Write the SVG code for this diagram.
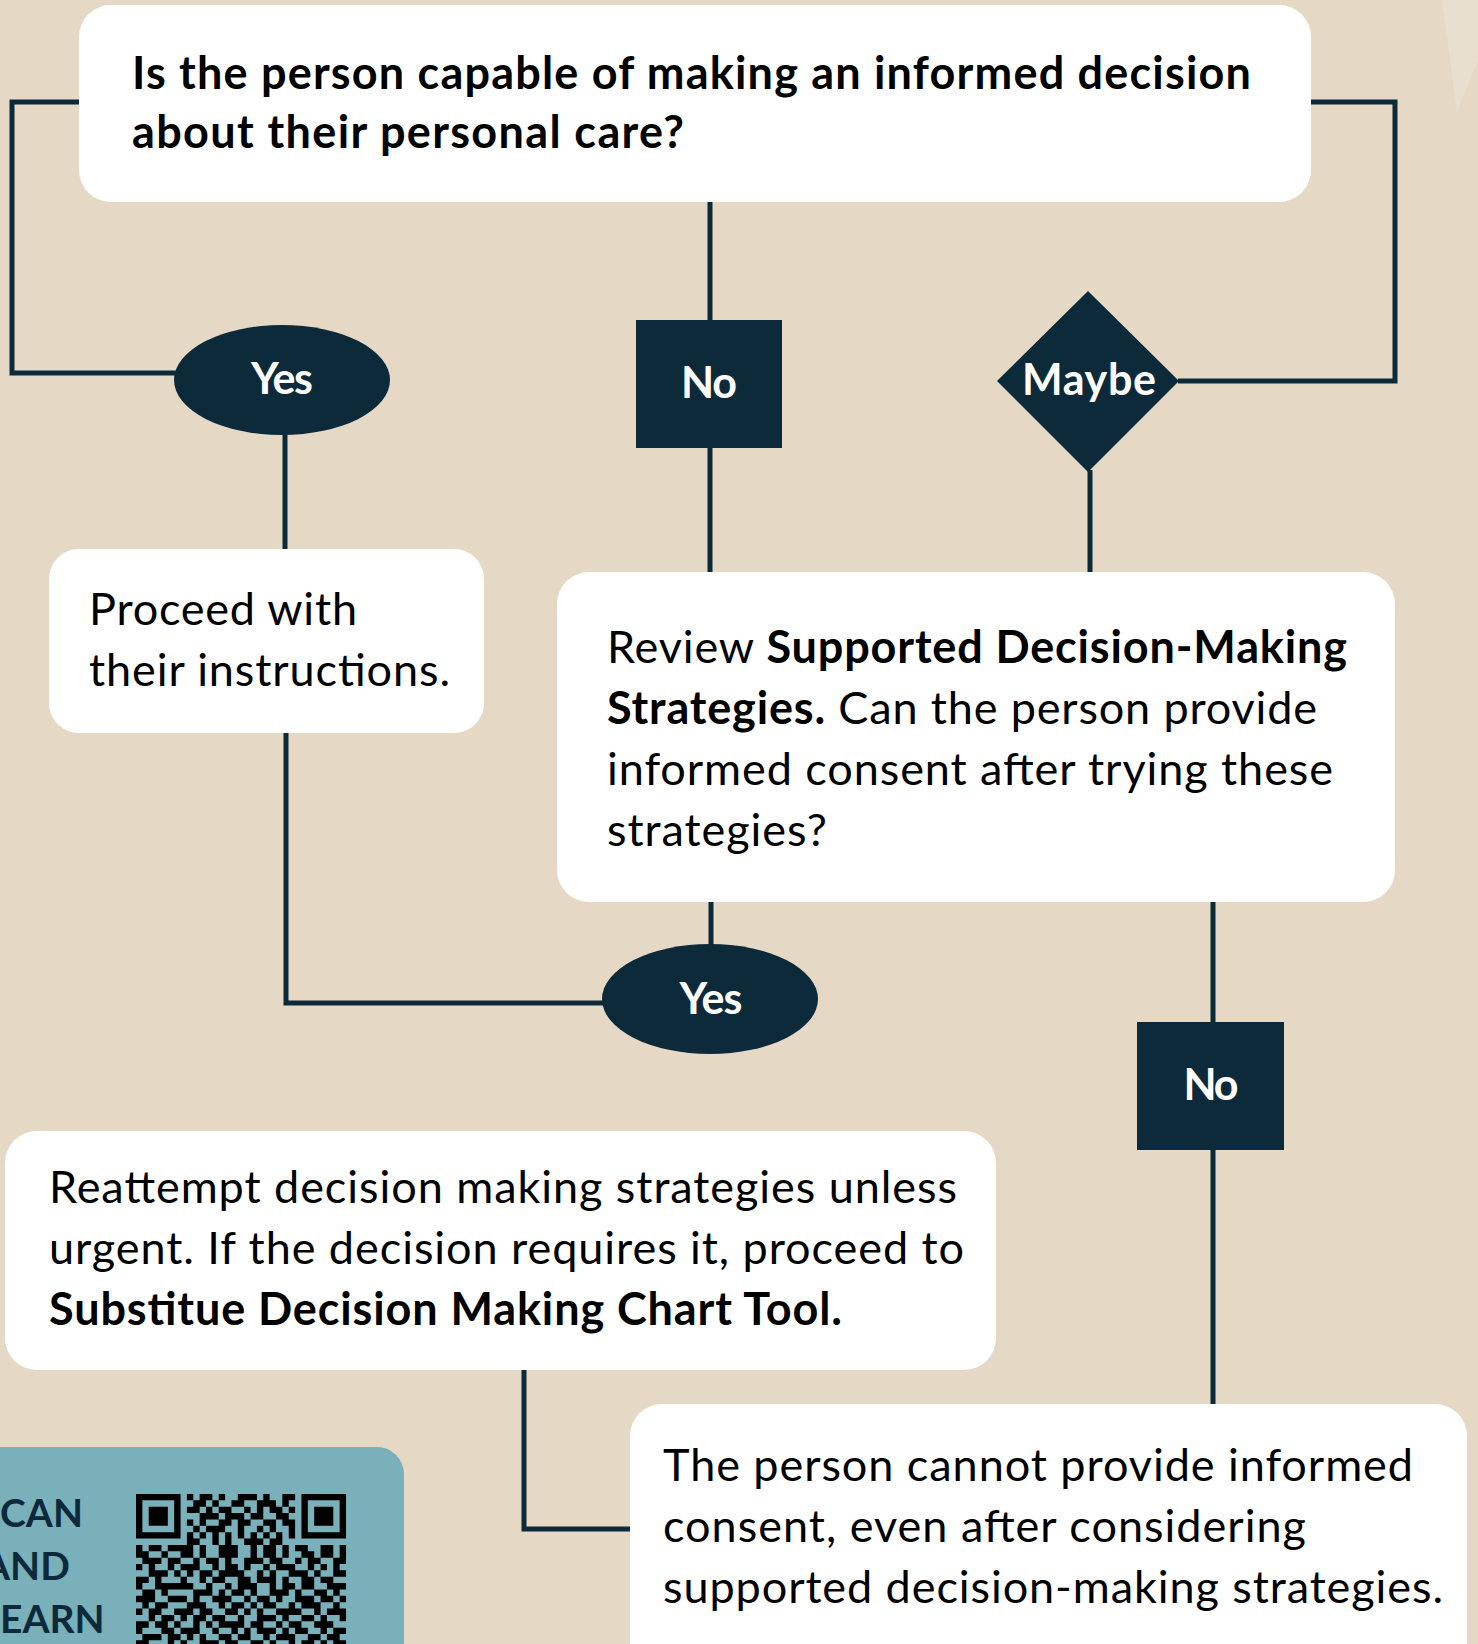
<svg xmlns="http://www.w3.org/2000/svg" width="1478" height="1644" viewBox="0 0 1478 1644">
<style>
.bg{fill:#e5d9c6}
.box{fill:#ffffff}
.dark{fill:#0d2a3a}
.con{fill:none;stroke:#0d2a3a;stroke-width:5}
.t{font-family:Lato,"Liberation Sans",sans-serif;font-size:45px;fill:#000}
.b{font-weight:bold}
.lbl{font-family:Lato,"Liberation Sans",sans-serif;font-size:43px;font-weight:bold;fill:#ffffff;text-anchor:middle}
.qrt{font-family:Lato,"Liberation Sans",sans-serif;font-size:39px;font-weight:bold;fill:#0d2a3a}
</style>
<rect class="bg" x="0" y="0" width="1478" height="1644"/>
<polygon points="1442,0 1478,0 1478,60 1457,112" fill="#e9dfcf"/>

<g id="connectors">
<polyline class="con" points="79,102 12,102 12,373 176,373"/>
<polyline class="con" points="1311,102 1395,102 1395,381 1178,381"/>
<line class="con" x1="710" y1="202" x2="710" y2="321"/>
<line class="con" x1="710" y1="447" x2="710" y2="573"/>
<line class="con" x1="1090" y1="470" x2="1090" y2="573"/>
<line class="con" x1="285" y1="433" x2="285" y2="550"/>
<polyline class="con" points="286,732 286,1003 604,1003"/>
<line class="con" x1="711" y1="901" x2="711" y2="945"/>
<line class="con" x1="1213" y1="901" x2="1213" y2="1023"/>
<line class="con" x1="1213" y1="1149" x2="1213" y2="1405"/>
<polyline class="con" points="524,1369 524,1529 631,1529"/>
</g>

<g id="question">
<rect class="box" x="79" y="5" width="1232" height="197" rx="32"/>
<text class="t b" x="132" y="89" textLength="1119">Is the person capable of making an informed decision</text>
<text class="t b" x="132" y="148" textLength="552">about their personal care?</text>
</g>

<g id="yes1">
<ellipse class="dark" cx="282" cy="380" rx="108" ry="55"/>
<text class="lbl" x="282" y="394" textLength="62">Yes</text>
</g>

<g id="no1">
<rect class="dark" x="636" y="320" width="146" height="128"/>
<text class="lbl" x="709" y="398" textLength="56">No</text>
</g>

<g id="maybe">
<polygon class="dark" points="1088,291 1179,381 1088,472 997,381"/>
<text class="lbl" x="1089" y="395" textLength="134">Maybe</text>
</g>

<g id="proceed">
<rect class="box" x="49" y="549" width="435" height="184" rx="30"/>
<text class="t" x="89" y="625" textLength="268">Proceed with</text>
<text class="t" x="89" y="686" textLength="361">their instructions.</text>
</g>

<g id="review">
<rect class="box" x="557" y="572" width="838" height="330" rx="32"/>
<text class="t" x="607" y="663" textLength="740">Review <tspan class="b">Supported Decision-Making</tspan></text>
<text class="t" x="607" y="724" textLength="710"><tspan class="b">Strategies.</tspan> Can the person provide</text>
<text class="t" x="607" y="785" textLength="726">informed consent after trying these</text>
<text class="t" x="607" y="846" textLength="220">strategies?</text>
</g>

<g id="yes2">
<ellipse class="dark" cx="710" cy="999" rx="108" ry="55"/>
<text class="lbl" x="711" y="1014" textLength="63">Yes</text>
</g>

<g id="no2">
<rect class="dark" x="1137" y="1022" width="147" height="128"/>
<text class="lbl" x="1211" y="1100" textLength="55">No</text>
</g>

<g id="reattempt">
<rect class="box" x="5" y="1131" width="991" height="239" rx="32"/>
<text class="t" x="49" y="1203" textLength="908">Reattempt decision making strategies unless</text>
<text class="t" x="49" y="1264" textLength="915">urgent. If the decision requires it, proceed to</text>
<text class="t b" x="49" y="1325" textLength="793">Substitue Decision Making Chart Tool.</text>
</g>

<g id="final">
<rect class="box" x="630" y="1404" width="837" height="290" rx="32"/>
<text class="t" x="663" y="1481" textLength="750">The person cannot provide informed</text>
<text class="t" x="663" y="1542" textLength="643">consent, even after considering</text>
<text class="t" x="663" y="1603" textLength="780">supported decision-making strategies.</text>
</g>

<g id="qr-panel">
<rect x="-40" y="1447" width="444" height="260" rx="27" fill="#79b0ba"/>
<text class="qrt" x="0" y="1527">CAN</text>
<text class="qrt" x="-17" y="1580">AND</text>
<text class="qrt" x="0" y="1633">EARN</text>
<path fill="#000" transform="translate(136 1494) scale(6.364)" d="
M0 0h7v1h-7z M8 0h1v1h-1z M10 0h2v1h-2z M13 0h1v1h-1z M16 0h3v1h-3z M20 0h1v1h-1z M23 0h2v1h-2z M26 0h7v1h-7z
M0 1h1v1h-1z M6 1h1v1h-1z M9 1h2v1h-2z M12 1h1v1h-1z M15 1h2v1h-2z M19 1h3v1h-3z M23 1h1v1h-1z M26 1h1v1h-1z M32 1h1v1h-1z
M0 2h1v1h-1z M2 2h3v1h-3z M6 2h1v1h-1z M8 2h2v1h-2z M11 2h1v1h-1z M13 2h2v1h-2z M17 2h1v1h-1z M19 2h1v1h-1z M21 2h2v1h-2z M24 2h1v1h-1z M26 2h1v1h-1z M28 2h3v1h-3z M32 2h1v1h-1z
M0 3h1v1h-1z M2 3h3v1h-3z M6 3h1v1h-1z M10 3h3v1h-3z M14 3h3v1h-3z M18 3h2v1h-2z M22 3h2v1h-2z M26 3h1v1h-1z M28 3h3v1h-3z M32 3h1v1h-1z
M0 4h1v1h-1z M2 4h3v1h-3z M6 4h1v1h-1z M8 4h1v1h-1z M10 4h1v1h-1z M13 4h2v1h-2z M16 4h2v1h-2z M20 4h2v1h-2z M23 4h2v1h-2z M26 4h1v1h-1z M28 4h3v1h-3z M32 4h1v1h-1z
M0 5h1v1h-1z M6 5h1v1h-1z M9 5h1v1h-1z M11 5h3v1h-3z M16 5h1v1h-1z M19 5h1v1h-1z M21 5h1v1h-1z M24 5h1v1h-1z M26 5h1v1h-1z M32 5h1v1h-1z
M0 6h7v1h-7z M8 6h1v1h-1z M10 6h1v1h-1z M12 6h1v1h-1z M14 6h1v1h-1z M16 6h1v1h-1z M18 6h1v1h-1z M20 6h1v1h-1z M22 6h1v1h-1z M24 6h1v1h-1z M26 6h7v1h-7z
M8 7h2v1h-2z M12 7h1v1h-1z M14 7h1v1h-1z M17 7h3v1h-3z M21 7h2v1h-2z
M0 8h1v1h-1z M2 8h2v1h-2z M5 8h4v1h-4z M10 8h1v1h-1z M13 8h3v1h-3z M18 8h1v1h-1z M20 8h2v1h-2z M23 8h1v1h-1z M25 8h2v1h-2z M29 8h2v1h-2z M32 8h1v1h-1z
M0 9h2v1h-2z M4 9h1v1h-1z M7 9h2v1h-2z M10 9h1v1h-1z M13 9h3v1h-3z M18 9h1v1h-1z M20 9h2v1h-2z M23 9h1v1h-1z M26 9h2v1h-2z M29 9h2v1h-2z M32 9h1v1h-1z
M1 10h3v1h-3z M5 10h2v1h-2z M9 10h1v1h-1z M11 10h2v1h-2z M14 10h1v1h-1z M17 10h3v1h-3z M21 10h2v1h-2z M25 10h1v1h-1z M27 10h2v1h-2z M31 10h2v1h-2z
M0 11h1v1h-1z M2 11h1v1h-1z M5 11h1v1h-1z M7 11h3v1h-3z M12 11h1v1h-1z M14 11h2v1h-2z M17 11h1v1h-1z M20 11h1v1h-1z M22 11h3v1h-3z M27 11h1v1h-1z M29 11h1v1h-1z M31 11h1v1h-1z
M2 12h3v1h-3z M6 12h1v1h-1z M8 12h1v1h-1z M10 12h2v1h-2z M13 12h4v1h-4z M19 12h1v1h-1z M21 12h1v1h-1z M24 12h3v1h-3z M28 12h1v1h-1z M31 12h2v1h-2z
M0 13h2v1h-2z M3 13h1v1h-1z M7 13h1v1h-1z M10 13h1v1h-1z M12 13h2v1h-2z M16 13h2v1h-2z M19 13h3v1h-3z M23 13h1v1h-1z M26 13h2v1h-2z M29 13h2v1h-2z
M0 14h1v1h-1z M3 14h6v1h-6z M11 14h1v1h-1z M14 14h1v1h-1z M16 14h3v1h-3z M21 14h1v1h-1z M23 14h2v1h-2z M26 14h2v1h-2z M30 14h3v1h-3z
M1 15h2v1h-2z M4 15h1v1h-1z M9 15h3v1h-3z M13 15h1v1h-1z M15 15h2v1h-2z M18 15h1v1h-1z M21 15h3v1h-3z M25 15h1v1h-1z M28 15h2v1h-2z M31 15h1v1h-1z
M0 16h3v1h-3z M5 16h3v1h-3z M9 16h1v1h-1z M12 16h3v1h-3z M17 16h1v1h-1z M19 16h2v1h-2z M22 16h1v1h-1z M25 16h3v1h-3z M29 16h2v1h-2z M32 16h1v1h-1z
M1 17h1v1h-1z M3 17h2v1h-2z M8 17h3v1h-3z M13 17h1v1h-1z M15 17h2v1h-2z M18 17h1v1h-1z M20 17h2v1h-2z M24 17h1v1h-1z M26 17h3v1h-3z M31 17h1v1h-1z
M0 18h1v1h-1z M2 18h2v1h-2z M6 18h3v1h-3z M10 18h2v1h-2z M14 18h2v1h-2z M17 18h1v1h-1z M19 18h1v1h-1z M22 18h4v1h-4z M28 18h1v1h-1z M30 18h3v1h-3z
M2 19h1v1h-1z M4 19h2v1h-2z M7 19h1v1h-1z M9 19h2v1h-2z M12 19h2v1h-2z M16 19h1v1h-1z M19 19h3v1h-3z M23 19h1v1h-1z M26 19h2v1h-2z M29 19h1v1h-1z M32 19h1v1h-1z
M0 20h2v1h-2z M3 20h2v1h-2z M6 20h1v1h-1z M9 20h1v1h-1z M11 20h1v1h-1z M13 20h4v1h-4z M18 20h2v1h-2z M22 20h1v1h-1z M24 20h2v1h-2z M28 20h3v1h-3z
M0 21h1v1h-1z M4 21h2v1h-2z M7 21h3v1h-3z M12 21h1v1h-1z M15 21h1v1h-1z M17 21h1v1h-1z M19 21h3v1h-3z M23 21h1v1h-1z M25 21h2v1h-2z M29 21h1v1h-1z M31 21h2v1h-2z
M1 22h3v1h-3z M5 22h2v1h-2z M8 22h1v1h-1z M10 22h1v1h-1z M13 22h2v1h-2z M16 22h2v1h-2z M20 22h1v1h-1z M22 22h3v1h-3z M27 22h2v1h-2z M30 22h2v1h-2z
M0 23h2v1h-2z M5 23h1v1h-1z M7 23h1v1h-1z M10 23h3v1h-3z M14 23h2v1h-2z M18 23h2v1h-2z M21 23h1v1h-1z M24 23h1v1h-1z M26 23h2v1h-2z M29 23h1v1h-1z M31 23h2v1h-2z"/>
</g>
</svg>
